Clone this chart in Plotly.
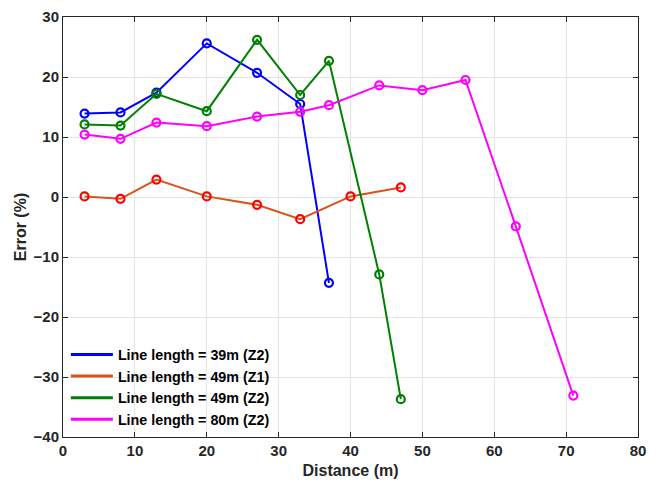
import plotly.graph_objects as go

# ---- data ----
x_39_z2 = [3, 8, 13, 20, 27, 33, 37]
y_39_z2 = [13.9, 14.1, 17.4, 25.6, 20.7, 15.5, -14.3]

x_49_z1 = [3, 8, 13, 20, 27, 33, 40, 47]
y_49_z1 = [0.1, -0.3, 2.9, 0.1, -1.3, -3.7, 0.1, 1.6]

x_49_z2 = [3, 8, 13, 20, 27, 33, 37, 44, 47]
y_49_z2 = [12.1, 11.9, 17.2, 14.3, 26.2, 17.0, 22.7, -12.9, -33.7]

x_80_z2 = [3, 8, 13, 20, 27, 33, 37, 44, 50, 56, 63, 71]
y_80_z2 = [10.4, 9.7, 12.4, 11.8, 13.4, 14.2, 15.3, 18.6, 17.8, 19.5, -4.9, -33.1]

labels = ["Line length = 39m (Z2)", "Line length = 49m (Z1)",
          "Line length = 49m (Z2)", "Line length = 80m (Z2)"]
line_colors = ["#0000FF", "#D95319", "#008000", "#FF00FF"]
marker_colors = ["#0000FF", "#FF0000", "#008000", "#FF00FF"]

xs = [x_39_z2, x_49_z1, x_49_z2, x_80_z2]
ys = [y_39_z2, y_49_z1, y_49_z2, y_80_z2]

fig = go.Figure()
for x, y, lab, lc, mc in zip(xs, ys, labels, line_colors, marker_colors):
    fig.add_trace(go.Scatter(
        x=x, y=y, mode="lines+markers", name=lab, showlegend=False,
        line=dict(color=lc, width=2),
        marker=dict(symbol="circle-open", size=8, color=mc, line=dict(width=2.2, color=mc)),
    ))
# legend entries show lines only
for lab, lc in zip(labels, line_colors):
    fig.add_trace(go.Scatter(
        x=[None], y=[None], mode="lines", name=lab,
        line=dict(color=lc, width=3),
    ))

axis_common = dict(
    showgrid=True, gridcolor="#E3E3E3", gridwidth=1,
    showline=True, linecolor="#262626", linewidth=1, mirror="ticks",
    ticks="inside", ticklen=5, tickcolor="#262626",
    zeroline=False, automargin=False,
    tickfont=dict(size=15, color="#262626", family="Liberation Sans, Arial", weight="bold"),
)

fig.update_layout(
    width=649, height=489,
    margin=dict(l=63, r=11, t=17, b=52),
    paper_bgcolor="white", plot_bgcolor="white",
    font=dict(family="Liberation Sans, Arial", color="#262626", weight="bold"),
    xaxis=dict(range=[0, 80], dtick=10, **axis_common,
               title=dict(text="Distance (m)", standoff=6,
                          font=dict(size=16, color="#262626", weight="bold"))),
    yaxis=dict(range=[-40, 30], dtick=10, **axis_common,
               title=dict(text="Error (%)", standoff=2,
                          font=dict(size=16, color="#262626", weight="bold"))),
    legend=dict(x=0.005, y=0.003, xanchor="left", yanchor="bottom",
                bgcolor="rgba(0,0,0,0)", borderwidth=0,
                font=dict(size=14.3, color="#000000", weight="bold"),
                tracegroupgap=0, itemwidth=42),
    showlegend=True,
)

fig.write_html("out.html", config={"displayModeBar": False},
               post_script="document.body.style.margin='0px';")
